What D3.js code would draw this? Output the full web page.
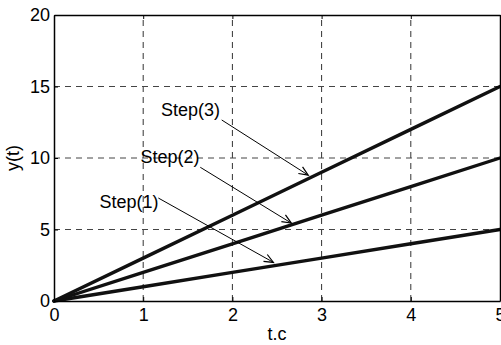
<!DOCTYPE html>
<html>
<head>
<meta charset="utf-8">
<script src="https://cdn.jsdelivr.net/npm/d3@7"></script>
<style>
  html, body { margin: 0; padding: 0; background: #fff; }
  svg { display: block; }
  text { font-family: "Liberation Sans", Arial, sans-serif; fill: #000; }
</style>
</head>
<body>
<svg id="chart" width="501" height="345"></svg>
<script>
// Time samples and the response of each step input
const tValues = [0, 1, 2, 3, 4, 5];
const step1 = [0, 1, 2, 3, 4, 5];
const step2 = [0, 2, 4, 6, 8, 10];
const step3 = [0, 3, 6, 9, 12, 15];

const xTicks = [0, 1, 2, 3, 4, 5];
const yTicks = [0, 5, 10, 15, 20];

// Annotations: label text, label anchor (data coords), arrow start and tip (data coords)
const labels = ["Step(1)", "Step(2)", "Step(3)"];
const labelAt = [[0.51, 6.5], [0.97, 9.65], [1.2, 12.94]];
const arrowFrom = [[1.17, 7.2], [1.64, 9.35], [1.88, 12.66]];
const arrowTo = [[2.46, 2.7], [2.66, 5.45], [2.85, 8.8]];

const svg = d3.select("#chart");
const m = { left: 54, right: 1, top: 15, bottom: 44 };
const W = 501, H = 345;

const x = d3.scaleLinear().domain([0, 5]).range([m.left, W - m.right]);
const y = d3.scaleLinear().domain([0, 20]).range([H - m.bottom, m.top]);

const fontSize = 18;

// dashed grid
const grid = svg.append("g");
grid.selectAll("line.gx").data(xTicks.slice(1, -1)).join("line")
  .attr("x1", d => x(d)).attr("x2", d => x(d))
  .attr("y1", y(0)).attr("y2", y(20))
  .attr("stroke", "#333").attr("stroke-width", 1).attr("stroke-dasharray", "6,5");
grid.selectAll("line.gy").data(yTicks.slice(1, -1)).join("line")
  .attr("x1", x(0)).attr("x2", x(5))
  .attr("y1", d => y(d)).attr("y2", d => y(d))
  .attr("stroke", "#444").attr("stroke-width", 1).attr("stroke-dasharray", "6,5");

// response lines
const line = d3.line().x((d, i) => x(tValues[i])).y(d => y(d));
[step1, step2, step3].forEach(s => {
  svg.append("path").datum(s).attr("d", line)
    .attr("fill", "none").attr("stroke", "#111").attr("stroke-width", 3.4)
    .attr("stroke-linecap", "round");
});

// axes (ticks inward, mirrored on top/right)
const xAxis = d3.axisBottom(x).tickValues(xTicks).tickSizeInner(-4).tickSizeOuter(0).tickPadding(7).tickFormat(d3.format("d"));
const yAxis = d3.axisLeft(y).tickValues(yTicks).tickSizeInner(-4).tickSizeOuter(0).tickPadding(4).tickFormat(d3.format("d"));
const gx = svg.append("g").attr("transform", `translate(0,${y(0)})`).call(xAxis);
const gy = svg.append("g").attr("transform", `translate(${x(0)},0)`).call(yAxis);
const gxt = svg.append("g").attr("transform", `translate(0,${y(20)})`)
  .call(d3.axisTop(x).tickValues(xTicks).tickSizeInner(-4).tickSizeOuter(0).tickFormat(""));
const gyr = svg.append("g").attr("transform", `translate(${x(5)},0)`)
  .call(d3.axisRight(y).tickValues(yTicks).tickSizeInner(-4).tickSizeOuter(0).tickFormat(""));
[gx, gy, gxt, gyr].forEach(g => {
  g.selectAll("path.domain").attr("stroke", "#000").attr("stroke-width", 1.5);
  g.selectAll(".tick line").attr("stroke", "#000");
  g.selectAll("text").style("font-family", '"Liberation Sans", Arial, sans-serif')
    .style("font-size", fontSize + "px").attr("fill", "#000");
});

// axis titles
svg.append("text").attr("x", (x(0) + x(5)) / 2).attr("y", 340)
  .attr("text-anchor", "middle").style("font-size", fontSize + "px").text("t.c");
svg.append("text").attr("transform", `translate(19,${(y(0) + y(20)) / 2}) rotate(-90)`)
  .attr("text-anchor", "middle").style("font-size", fontSize + "px").text("y(t)");

// annotations with open arrowheads
labels.forEach((lab, i) => {
  svg.append("text").attr("x", x(labelAt[i][0])).attr("y", y(labelAt[i][1]))
    .style("font-size", fontSize + "px").text(lab);
  const x1 = x(arrowFrom[i][0]), y1 = y(arrowFrom[i][1]);
  const x2 = x(arrowTo[i][0]), y2 = y(arrowTo[i][1]);
  svg.append("line").attr("x1", x1).attr("y1", y1).attr("x2", x2).attr("y2", y2)
    .attr("stroke", "#000").attr("stroke-width", 1);
  const ang = Math.atan2(y2 - y1, x2 - x1);
  const L = 10, spread = 0.4;
  const p = a => [x2 - L * Math.cos(ang + a), y2 - L * Math.sin(ang + a)];
  const a1 = p(spread), a2 = p(-spread);
  svg.append("path").attr("d", `M${a1[0]},${a1[1]}L${x2},${y2}L${a2[0]},${a2[1]}`)
    .attr("fill", "none").attr("stroke", "#000").attr("stroke-width", 1.2);
});
</script>
</body>
</html>
